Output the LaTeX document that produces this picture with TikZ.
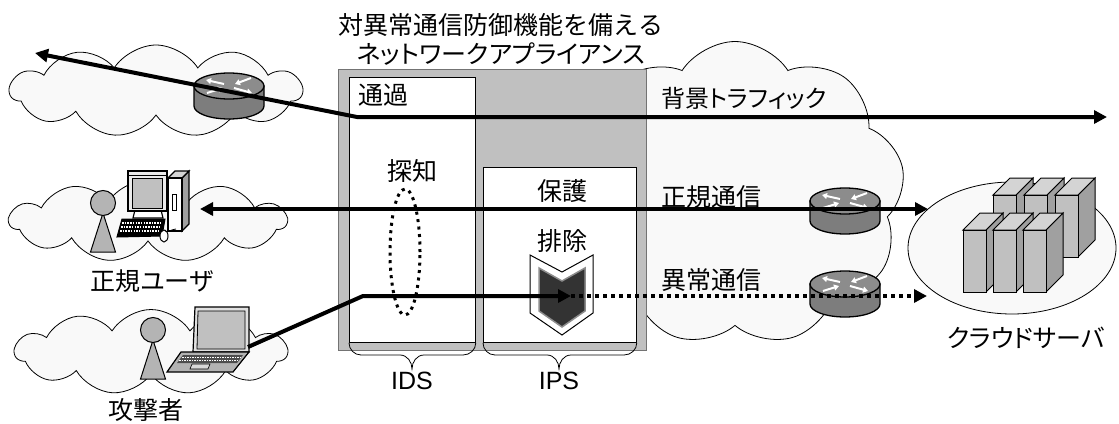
\documentclass[tikz,border=0pt]{standalone}
\usepackage{fontspec}
\setmainfont{Liberation Sans}
\newfontfamily\jp{Noto Sans CJK JP}
\newfontfamily\jpp{Noto Sans CJK JP}[RawFeature=+palt]
\usetikzlibrary{shapes.symbols,shapes.geometric,arrows.meta}

\definecolor{cloudfill}{RGB}{249,249,249}
\definecolor{boxgray}{RGB}{192,192,192}
\definecolor{rtside}{RGB}{125,125,125}
\definecolor{rttop}{RGB}{140,140,140}
\definecolor{persongray}{RGB}{180,180,180}
\definecolor{shielddark}{RGB}{51,51,51}
\definecolor{srvfront}{RGB}{192,192,192}
\definecolor{srvside}{RGB}{160,160,160}
\definecolor{srvtop}{RGB}{212,212,212}
\definecolor{screengray}{RGB}{192,192,192}

\tikzset{
  jplabel/.style={font=\jp\fontsize{25}{28}\selectfont, inner sep=0pt},
  jpprop/.style={font=\jpp\fontsize{25}{28}\selectfont, inner sep=0pt},
  latlabel/.style={font=\fontsize{25}{28}\selectfont, inner sep=0pt},
  cloudbg/.style={cloud, cloud puffs=11, cloud puff arc=115, cloud ignores aspect,
    draw=black, line width=0.8pt, fill=cloudfill, inner sep=0pt},
  panel/.style={draw=black, line width=0.8pt, fill=white, inner sep=0pt, anchor=north west},
  flow/.style={draw=black, line width=4pt},
  tipR/.style={-{Triangle[length=13pt,width=13pt]}},
  tipLR/.style={{Triangle[length=13pt,width=13pt]}-{Triangle[length=13pt,width=13pt]}},
  dotflow/.style={draw=black, line width=4pt, dash pattern=on 4pt off 4pt},
  brace/.style={draw=black, line width=0.8pt},
  router/.pic={
    \path[draw=black, line width=1.3pt, fill=rtside] (-35,0) -- (-35,20)
      arc[start angle=180, end angle=360, x radius=35pt, y radius=13pt] -- (35,0) -- cycle;
    \path[draw=black, line width=1.3pt, fill=rttop] (0,0) ellipse[x radius=35pt, y radius=13pt];
    \begin{scope}[white, line width=2pt, -{Triangle[length=5pt,width=6pt]}]
      \draw (-5,-2) -- (-23,-6);
      \draw (22,-8) -- (6,-2);
      \draw (-22,7) -- (-6,2);
      \draw (5,2) -- (23,7);
    \end{scope}
  },
  server/.pic={
    \path[draw=black, line width=1pt, fill=srvside] (23,0) -- (40,-17) -- (40,45) -- (23,62) -- cycle;
    \path[draw=black, line width=1pt, fill=srvtop] (0,0) -- (17,-17) -- (40,-17) -- (23,0) -- cycle;
    \path[draw=black, line width=1pt, fill=srvfront] (0,0) rectangle (23,62);
  },
  person/.pic={
    \path[draw=black, line width=1pt, fill=persongray] (0,10) -- (12.5,49) -- (-12.5,49) -- cycle;
    \path[draw=black, line width=1pt, fill=persongray] (0,0) circle[radius=12.5pt];
  }
}

\begin{document}
\begin{tikzpicture}[x=1pt,y=-1pt]
\useasboundingbox (0,0) rectangle (1119,423);

% ---- networks
\node[cloudbg, cloud puffs=9, minimum width=340pt, minimum height=305pt] (netcloud) at (735,194) {};
\node[cloudbg, minimum width=292pt, minimum height=92pt] (wancloud) at (156,91) {};
\node[cloudbg, minimum width=277pt, minimum height=82pt] (usercloud) at (148,221) {};
\node[cloudbg, minimum width=272pt, minimum height=85pt] (atkcloud) at (151,352) {};

% ---- cloud servers
\node[ellipse, draw=black, line width=0.8pt, fill=cloudfill, minimum width=208pt,
      minimum height=132pt, inner sep=0pt] (dc) at (1012,248) {};
\foreach \sx in {993,1024,1055} { \pic at (\sx,195) {server}; }
\foreach \sx in {963,993,1023} { \pic at (\sx,230) {server}; }
\node[jpprop] (dclabel) at (1026,338) {クラウドサーバ};

% ---- appliance
\node[draw=black!55, line width=0.8pt, fill=boxgray, minimum width=308pt, minimum height=281pt,
      inner sep=0pt, anchor=north west] (appl) at (338,69) {};
\node[panel, minimum width=126pt, minimum height=265pt] (ids) at (349,77) {};
\node[panel, minimum width=153pt, minimum height=175pt] (ips) at (483,167) {};
\node[jplabel] (title1) at (501,25) {対異常通信防御機能を備える};
\node[jpprop] (title2) at (501,54) {ネットワークアプライアンス};
\node[jplabel] (pass) at (383,95) {通過};
\node[jplabel] (detect) at (412,171) {探知};
\node[jplabel] (protect) at (562,191) {保護};
\node[jplabel] (reject) at (562,241) {排除};

% braces under the two stages
\draw[brace] (ids.south west) to[out=-90,in=180] (361,355) -- (400,355)
  to[out=0,in=90] (412,369) to[out=90,in=180] (424,355) -- (463,355)
  to[out=0,in=-90] (ids.south east);
\draw[brace] (ips.south west) to[out=-90,in=180] (495,355) -- (547,355)
  to[out=0,in=90] (559,369) to[out=90,in=180] (571,355) -- (624,355)
  to[out=0,in=-90] (ips.south east);
\node[latlabel] (idslabel) at (412,381) {IDS};
\node[latlabel] (ipslabel) at (559,381) {IPS};

% detection ring
\node[ellipse, draw=black, line width=3pt, dash pattern=on 3pt off 4.5pt,
      minimum width=30pt, minimum height=126pt, inner sep=0pt] (ring) at (405,252) {};

% shield
\path[draw=black, line width=1pt, fill=white]
  (530,255) -- (562,272) -- (593,255) -- (593,313) -- (562,335) -- (530,313) -- cycle;
\path[draw=black!45, line width=1.5pt, fill=shielddark]
  (539,268) -- (562,281) -- (585,268) -- (585,311) -- (562,327) -- (539,311) -- cycle;

% ---- regular user: person and desktop PC
\pic at (103,203) {person};
\path[draw=black, line width=1.2pt, fill=srvside] (182,178) -- (189,171) -- (189,224) -- (182,231) -- cycle;
\path[draw=black, line width=1.2pt, fill=srvtop] (168,178) -- (175,171) -- (189,171) -- (182,178) -- cycle;
\path[draw=black, line width=1.2pt, fill=white] (168,178) rectangle (182,231);
\path[draw=black, line width=1pt, fill=white] (172,194) rectangle (176,210);
\path[draw=black, line width=1.2pt, fill=white] (135,210) -- (161,210) -- (163,218) -- (133,218) -- cycle;
\path[draw=black, line width=1.5pt, fill=white!92!black] (128,171) rectangle (167,211);
\draw[black, line width=0.8pt] (128,175) -- (167,175);
\path[draw=black, line width=1pt, fill=screengray] (132,178) rectangle (162,208);
\path[draw=black, line width=1pt, fill=black] (122,219) -- (165,219) -- (162,236) -- (117,237) -- cycle;
\foreach \ky/\kx in {223/122, 227/121, 231/120} {
  \draw[white, line width=1.2pt, dash pattern=on 1.5pt off 1.2pt] (\kx,\ky) -- +(40,0);
}
\path[draw=black, line width=1pt, fill=white] (164,236) ellipse[x radius=4pt, y radius=6pt];
\draw[black, line width=0.8pt] (165,230) to[out=-80,in=180] (176,229);

% ---- attacker: person and laptop
\pic at (153,330) {person};
\path[draw=black, line width=1.2pt, fill=white!88!black] (195,307) -- (249,307) -- (249,352) -- (193,352) -- cycle;
\path[draw=black, line width=0.8pt, fill=screengray] (198,311) -- (245,311) -- (245,349) -- (197,349) -- cycle;
\path[draw=black, line width=1.2pt, fill=white!70!black] (181,352) -- (249,352) -- (233,372) -- (167,372) -- cycle;
\path[fill=black!70] (183,355) -- (243,355) -- (237,363) -- (177,363) -- cycle;
\foreach \ly/\lx in {357.5/182, 360.5/179} {
  \draw[white, line width=0.8pt, dash pattern=on 1.5pt off 1pt] (\lx,\ly) -- +(58,0);
}
\path[draw=black, line width=0.6pt, fill=white!85!black] (192,364) -- (210,364) -- (208,369) -- (190,369) -- cycle;

% ---- routers
\pic at (229,86) {router};
\pic at (845,201) {router};
\pic at (845,284) {router};

% ---- labels
\node[jpprop] (userlabel) at (152,281) {正規ユーザ};
\node[jplabel] (atklabel) at (146,410) {攻撃者};
\node[jpprop, anchor=west, font=\jpp\fontsize{24}{28}\selectfont] (bglabel) at (661,98) {背景トラフィック};
\node[jplabel, anchor=west] (oklabel) at (661,197) {正規通信};
\node[jplabel, anchor=west] (nglabel) at (661,280) {異常通信};

% ---- traffic flows
\coordinate (bgW) at (35,53);
\coordinate (bgBend) at (357,117);
\coordinate (bgE) at (1107,117);
\coordinate (pcPort) at (200,209);
\coordinate (dcIn) at (928,209);
\coordinate (lapPort) at (248,347);
\coordinate (atkBend) at (363,296);
\coordinate (guard) at (571,296);
\coordinate (dcAtk) at (927,296);

\draw[flow, tipLR] (bgW) -- (bgBend) -- (bgE);
\draw[flow, tipLR] (pcPort) -- (dcIn);
\draw[dotflow, tipR] (guard) -- (dcAtk);
\draw[flow, tipR] (lapPort) -- (atkBend) -- (guard);
\end{tikzpicture}
\end{document}
